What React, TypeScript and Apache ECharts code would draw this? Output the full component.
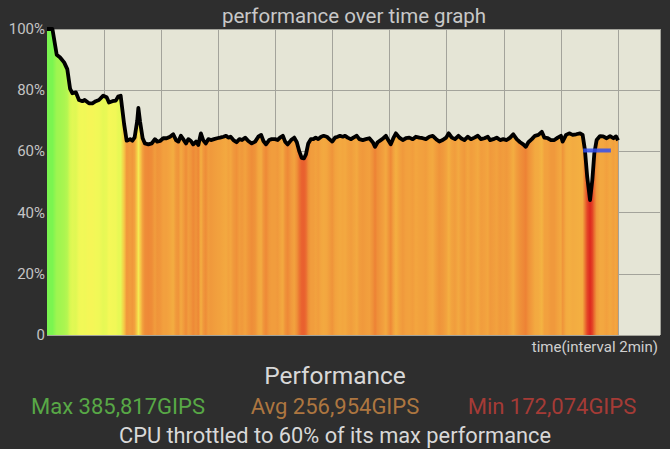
import React, { useEffect, useRef } from "react";
import * as echarts from "echarts";

const timeMin = [
  0.0, 0.19, 0.34, 0.46, 0.6, 0.71, 0.81, 0.89, 1.01, 1.12, 1.24, 1.32, 1.47, 1.59, 1.71, 1.82, 1.97, 2.09, 2.17, 2.29,
  2.41, 2.49, 2.58, 2.7, 2.79, 2.91, 2.99, 3.07, 3.16, 3.2, 3.26, 3.35, 3.43, 3.55, 3.67, 3.78, 3.86, 3.96, 4.07, 4.19,
  4.31, 4.42, 4.52, 4.6, 4.69, 4.77, 4.87, 4.95, 5.04, 5.12, 5.22, 5.3, 5.39, 5.47, 5.56, 5.65, 5.74, 5.85, 5.96, 6.06,
  6.18, 6.27, 6.35, 6.43, 6.53, 6.64, 6.74, 6.83, 6.94, 7.05, 7.17, 7.29, 7.4, 7.5, 7.58, 7.67, 7.78, 7.87, 7.99, 8.08,
  8.16, 8.26, 8.34, 8.43, 8.55, 8.66, 8.75, 8.84, 8.92, 9.0, 9.07, 9.15, 9.24, 9.33, 9.41, 9.5, 9.6, 9.69, 9.8, 9.89,
  9.99, 10.09, 10.18, 10.26, 10.36, 10.44, 10.53, 10.65, 10.73, 10.85, 10.94, 11.06, 11.17, 11.29, 11.41, 11.49, 11.58,
  11.69, 11.78, 11.87, 11.95, 12.04, 12.13, 12.22, 12.34, 12.46, 12.57, 12.69, 12.81, 12.92, 13.04, 13.16, 13.27, 13.39,
  13.51, 13.63, 13.74, 13.86, 13.98, 14.07, 14.18, 14.29, 14.41, 14.5, 14.62, 14.74, 14.85, 14.97, 15.09, 15.2, 15.32,
  15.44, 15.52, 15.63, 15.75, 15.87, 15.98, 16.1, 16.22, 16.33, 16.45, 16.57, 16.68, 16.77, 16.86, 16.98, 17.09, 17.21,
  17.33, 17.42, 17.54, 17.65, 17.77, 17.89, 18.0, 18.06, 18.18, 18.29, 18.41, 18.53, 18.67, 18.76, 18.84, 18.92, 19.02,
  19.1, 19.17, 19.25, 19.37, 19.48, 19.6, 19.72, 19.84, 19.93, 20.0,
];

const perfPct = [
  100, 100, 91.6, 90.7, 89.1, 86.9, 80.4, 79.0, 79.3, 76.8, 76.4, 76.8, 75.7, 75.7, 76.4, 76.8, 78.2, 77.7, 76.0, 76.4,
  76.6, 77.9, 78.2, 69.0, 63.5, 64.0, 63.5, 64.6, 70.0, 74.2, 69.7, 64.3, 62.6, 62.3, 62.6, 64.0, 63.2, 63.4, 64.3, 64.3,
  64.8, 65.6, 63.7, 63.2, 65.1, 64.0, 62.6, 64.0, 63.4, 62.3, 63.2, 62.1, 65.9, 63.7, 62.6, 64.0, 63.7, 64.0, 64.3, 64.5,
  64.8, 65.1, 64.5, 64.8, 63.7, 63.0, 64.0, 63.7, 64.5, 63.4, 62.6, 63.2, 64.8, 65.4, 63.4, 62.3, 63.7, 64.0, 64.0, 63.7,
  64.5, 65.1, 63.2, 62.3, 63.7, 64.5, 63.0, 59.9, 57.9, 57.7, 59.0, 62.6, 64.0, 64.0, 64.5, 64.0, 64.8, 65.1, 64.8, 64.0,
  63.2, 64.5, 64.8, 65.1, 64.8, 65.1, 64.5, 64.0, 64.5, 65.1, 64.0, 63.7, 64.0, 64.3, 63.0, 61.5, 63.0,
  63.7, 64.3, 65.1, 63.7, 62.3, 64.3, 65.9, 64.5, 63.7, 64.3, 64.5, 64.0, 64.8, 64.5, 64.3, 64.0, 64.8,
  65.1, 64.0, 63.2, 63.7, 64.5, 65.9, 64.5, 64.0, 65.1, 64.3, 63.7, 64.8, 64.0, 64.5, 65.1, 64.0, 64.3,
  64.8, 63.7, 64.0, 64.5, 63.7, 64.0, 63.7, 64.5, 65.6, 64.0, 63.0, 62.3, 61.5, 63.0, 64.0, 65.1, 65.4,
  66.4, 64.5, 64.3, 63.7, 63.7, 64.5, 65.1, 63.2, 65.4, 65.9, 65.4, 65.6, 65.9, 65.4, 60.5, 51.7, 44.1,
  50.7, 59.4, 63.7, 65.0, 64.9, 64.3, 65.0, 64.3, 64.9, 63.6,
];

const throttleLine = [
  [18.78, 60.3],
  [19.75, 60.3],
];

const yTicks = [0, 20, 40, 60, 80, 100];

const titleText = "performance over time graph";
const xAxisName = "time(interval 2min)";
const summaryTitle = "Performance";
const maxText = "Max 385,817GIPS";
const avgText = "Avg 256,954GIPS";
const minText = "Min 172,074GIPS";
const throttleText = "CPU throttled to 60% of its max performance";

const colorAnchors: [number, number[]][] = [
  [44, [222, 40, 30]],
  [57, [232, 90, 45]],
  [62, [237, 134, 54]],
  [65, [243, 168, 64]],
  [70, [246, 208, 72]],
  [76, [245, 248, 88]],
  [80, [218, 248, 82]],
  [90, [165, 245, 80]],
  [100, [122, 245, 80]],
];

function colorFor(v: number): string {
  if (v <= colorAnchors[0][0]) return `rgb(${colorAnchors[0][1].join(",")})`;
  for (let i = 1; i < colorAnchors.length; i++) {
    const [v1, c1] = colorAnchors[i];
    const [v0, c0] = colorAnchors[i - 1];
    if (v <= v1) {
      const t = (v - v0) / (v1 - v0);
      const c = c0.map((a, k) => Math.round(a + (c1[k] - a) * t));
      return `rgb(${c.join(",")})`;
    }
  }
  return `rgb(${colorAnchors[colorAnchors.length - 1][1].join(",")})`;
}

export default function App() {
  const ref = useRef<HTMLDivElement>(null);
  useEffect(() => {
    if (!ref.current) return;
    const chart = echarts.init(ref.current, null, { renderer: "svg" });
    const t0 = timeMin[0];
    const t1 = timeMin[timeMin.length - 1];
    const stops = timeMin.map((t, i) => ({ offset: (t - t0) / (t1 - t0), color: colorFor(perfPct[i]) }));
    const font = "Roboto";
    chart.setOption({
      animation: false,
      backgroundColor: "#2e2e2e",
      grid: { left: 47, right: 10, top: 29, bottom: 114, show: true, backgroundColor: "#e5e5d6", borderWidth: 0 },
      xAxis: {
        type: "value",
        min: 0,
        max: 21.47,
        interval: 2,
        axisLine: { show: false },
        axisTick: { show: false },
        axisLabel: { show: false },
        splitLine: { show: true, lineStyle: { color: "#a3a39b", width: 1 } },
      },
      yAxis: {
        type: "value",
        min: yTicks[0],
        max: yTicks[yTicks.length - 1],
        interval: 20,
        axisLine: { show: false },
        axisTick: { show: false },
        axisLabel: {
          color: "#c4c4c4",
          fontSize: 15,
          fontFamily: font,
          margin: 2,
          formatter: (v: number) => (v === 0 ? "0" : v + "%"),
        },
        splitLine: { show: true, lineStyle: { color: "#a3a39b", width: 1 } },
      },
      series: [
        {
          type: "line",
          data: timeMin.map((t, i) => [t, perfPct[i]]),
          showSymbol: false,
          smooth: false,
          lineStyle: { color: "#000", width: 3.8, join: "round" },
          areaStyle: { color: new echarts.graphic.LinearGradient(0, 0, 1, 0, stops), opacity: 1 },
          z: 3,
        },
        {
          type: "line",
          data: throttleLine,
          showSymbol: false,
          lineStyle: { color: "rgba(50,80,240,0.85)", width: 4 },
          z: 4,
        },
      ],
      graphic: [
        { type: "text", x: 354, y: 16, style: { text: titleText, fill: "#c8c8c8", fontSize: 20.5, fontFamily: font, align: "center", verticalAlign: "middle" } },
        { type: "text", x: 658, y: 347, style: { text: xAxisName, fill: "#d0d0d0", fontSize: 15, fontFamily: font, align: "right", verticalAlign: "middle" } },
        { type: "text", x: 335, y: 375, style: { text: summaryTitle, fill: "#d8d8d8", fontSize: 24.5, fontFamily: font, align: "center", verticalAlign: "middle" } },
        { type: "text", x: 118, y: 406, style: { text: maxText, fill: "#58a846", fontSize: 22, fontFamily: font, align: "center", verticalAlign: "middle" } },
        { type: "text", x: 335, y: 406, style: { text: avgText, fill: "#ad7640", fontSize: 22, fontFamily: font, align: "center", verticalAlign: "middle" } },
        { type: "text", x: 552, y: 406, style: { text: minText, fill: "#a53b36", fontSize: 22, fontFamily: font, align: "center", verticalAlign: "middle" } },
        { type: "text", x: 335, y: 435, style: { text: throttleText, fill: "#d8d8d8", fontSize: 21.8, fontFamily: font, align: "center", verticalAlign: "middle" } },
      ],
    });
    return () => chart.dispose();
  }, []);
  return <div ref={ref} style={{ position: "fixed", left: 0, top: 0, width: 670, height: 449 }} />;
}
